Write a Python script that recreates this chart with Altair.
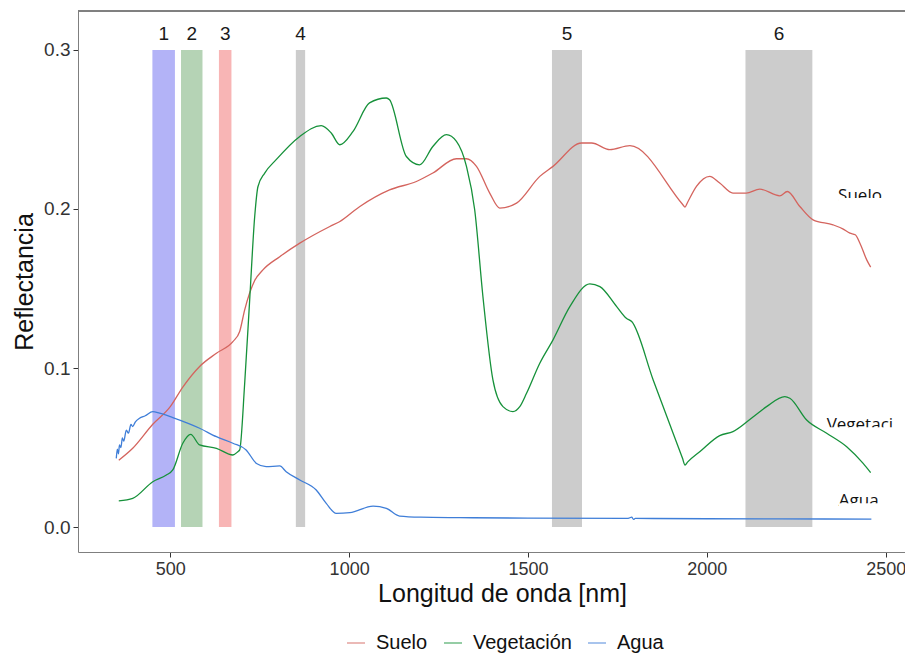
import altair as alt
import pandas as pd

# ---------------- data ----------------
suelo_wl = [356, 395, 451, 500, 535, 582, 629, 675, 694, 708, 736, 759, 806, 862,
            946, 973, 1030, 1113, 1188, 1234, 1300, 1328, 1356, 1393, 1421, 1468,
            1533, 1570, 1650, 1678, 1729, 1785, 1932, 1939, 1946, 1971, 2008, 2036,
            2073, 2110, 2148, 2204, 2225, 2260, 2297, 2353, 2380, 2400, 2415, 2428,
            2447, 2458]
suelo_val = [0.042, 0.0495, 0.0646, 0.0757, 0.088, 0.101, 0.1093, 0.1166, 0.123,
             0.1366, 0.155, 0.1617, 0.170, 0.1785, 0.189, 0.192, 0.2016, 0.212,
             0.2173, 0.2226, 0.2316, 0.2316, 0.2268, 0.210, 0.2006, 0.2037, 0.2205,
             0.2268, 0.2415, 0.2415, 0.2373, 0.2398, 0.2030, 0.2012, 0.2041, 0.2142,
             0.2205, 0.2163, 0.210, 0.210, 0.2125, 0.2083, 0.211, 0.2016, 0.1932,
             0.190, 0.1875, 0.1848, 0.1838, 0.1785, 0.168, 0.1634]

veg_wl = [356, 395, 451, 489, 507, 535, 557, 582, 629, 675, 689, 694, 708, 722, 736,
          745, 764, 796, 862, 922, 950, 974, 1011, 1057, 1104, 1113, 1160, 1197,
          1234, 1272, 1300, 1328, 1351, 1374, 1402, 1430, 1458, 1477, 1496, 1533,
          1570, 1617, 1673, 1701, 1748, 1775, 1790, 1850, 1932, 1939, 1946, 1981,
          2036, 2073, 2130, 2167, 2218, 2232, 2279, 2335, 2391, 2437, 2458]
veg_val = [0.0164, 0.018, 0.0285, 0.0327, 0.0359, 0.0527, 0.0583, 0.0516, 0.0495,
           0.0453, 0.0474, 0.0485, 0.0904, 0.143, 0.1953, 0.214, 0.2226, 0.231,
           0.2456, 0.2524, 0.2478, 0.2404, 0.2488, 0.2667, 0.2698, 0.2687, 0.233,
           0.2278, 0.2393, 0.2467, 0.2425, 0.2268, 0.1995, 0.145, 0.0925, 0.0757,
           0.0726, 0.0757, 0.0841, 0.103, 0.1177, 0.1386, 0.1529, 0.1512, 0.1386,
           0.1313, 0.1292, 0.0925, 0.0432, 0.039, 0.0408, 0.0475, 0.0575, 0.060,
           0.0694, 0.0757, 0.082, 0.081, 0.0673, 0.059, 0.0505, 0.040, 0.0342]

agua_wl = [349, 352, 355, 358, 362, 366, 370, 377, 383, 390, 395, 402, 414, 430, 451,
           470, 507, 582, 629, 675, 712, 741, 768, 806, 824, 862, 908, 936, 964,
           1002, 1067, 1104, 1141, 1200, 1309, 1500, 1780, 1790, 1795, 1800, 2000,
           2200, 2460]
agua_val = [0.0432, 0.049, 0.046, 0.0516, 0.050, 0.056, 0.054, 0.061, 0.059, 0.0645,
            0.0632, 0.066, 0.0684, 0.070, 0.0726, 0.0716, 0.0688, 0.0621, 0.0568,
            0.0527, 0.0485, 0.040, 0.038, 0.0384, 0.0348, 0.0296, 0.0233, 0.0149,
            0.0086, 0.009, 0.0132, 0.0118, 0.0069, 0.0062, 0.0059, 0.0056, 0.0055,
            0.0062, 0.0048, 0.0054, 0.0052, 0.0051, 0.005]

series_names = ["Suelo", "Vegetación", "Agua"]
series_colors = ["#D4645E", "#16913A", "#3F7ED8"]

band_labels = ["1", "2", "3", "4", "5", "6"]
band_start = [450, 530, 636, 851, 1567, 2108]
band_end = [513, 590, 671, 877, 1651, 2295]
band_colors = ["#B3B3F7", "#B5D3B5", "#F8B5B5", "#CCCCCC", "#CCCCCC", "#CCCCCC"]
band_bottom = 0.0
band_top = 0.3
band_label_y = 0.31

annot_text = ["Suelo", "Vegetaci", "Agua"]
annot_x = [2367, 2335, 2369]
annot_xend = [2510, 2545, 2500]
annot_y = [0.205, 0.0608, 0.013]

# ---------------- frames ----------------
lines = pd.concat([
    pd.DataFrame({"wl": suelo_wl, "val": suelo_val, "serie": series_names[0]}),
    pd.DataFrame({"wl": veg_wl, "val": veg_val, "serie": series_names[1]}),
    pd.DataFrame({"wl": agua_wl, "val": agua_val, "serie": series_names[2]}),
], ignore_index=True)

bands = pd.DataFrame({"label": band_labels, "x0": band_start, "x1": band_end,
                      "fillc": band_colors, "y0": band_bottom, "y1": band_top,
                      "ly": band_label_y})

annots = pd.DataFrame({"t": annot_text, "ax": annot_x, "axe": annot_xend, "ay": annot_y})

W, H = 827, 541
FONT = "Liberation Sans"
XDOM = [242, 2554]
YDOM = [-0.0157, 0.3245]


def xs(field):
    return alt.X(field, type="quantitative",
                 scale=alt.Scale(domain=XDOM, nice=False, zero=False),
                 axis=alt.Axis(values=[500, 1000, 1500, 2000, 2500], format="d",
                               title="Longitud de onda [nm]", titleX=424,
                               labelFontSize=18))


def ys(field):
    return alt.Y(field, type="quantitative",
                 scale=alt.Scale(domain=YDOM, nice=False, zero=False),
                 axis=alt.Axis(values=[0, 0.1, 0.2, 0.3], format=".1f",
                               title="Reflectancia"))


band_rect = alt.Chart(bands).mark_rect().encode(
    x=xs("x0"), x2="x1", y=ys("y0"), y2="y1",
    fill=alt.Fill("fillc:N", scale=None),
)

band_text = alt.Chart(bands).transform_calculate(
    cx="(datum.x0 + datum.x1) / 2"
).mark_text(font=FONT, fontSize=19, color="#1a1a1a", baseline="middle").encode(
    x=xs("cx"), y=ys("ly"), text="label:N"
)

annot_t = alt.Chart(annots).mark_text(
    font="Open Sans", fontSize=17, color="#111111", align="left", baseline="alphabetic"
).encode(x=xs("ax"), y=ys("ay"), text="t:N")

annot_mask = alt.Chart(annots).mark_rect(
    color="white", yOffset=-3, y2Offset=6
).encode(x=xs("ax"), x2="axe", y=ys("ay"), y2="ay")

line_layer = alt.Chart(lines).mark_line(strokeWidth=1.3, interpolate="monotone").encode(
    x=xs("wl"), y=ys("val"),
    color=alt.Color("serie:N",
                    scale=alt.Scale(domain=series_names, range=series_colors),
                    sort=series_names,
                    legend=alt.Legend(title=None, orient="none", direction="horizontal",
                                      legendX=268, legendY=622)),
    order=alt.Order("wl:Q"),
)

top_border = alt.Chart(bands).mark_rule(color="#7f7f7f", strokeWidth=1).encode(
    x=alt.value(0), x2=alt.value(W), y=alt.value(0)
)

chart = alt.layer(
    band_rect, band_text, annot_t, annot_mask, line_layer, top_border
).properties(
    width=W, height=H,
    autosize=alt.AutoSizeParams(type="none"),
    padding={"left": 70, "top": 3, "right": 0, "bottom": 104},
    background="white",
).configure_view(
    stroke=None
).configure_axis(
    grid=False,
    labelFont=FONT, labelFontSize=19, labelColor="#333333",
    titleFont=FONT, titleFontSize=25, titleFontWeight="normal", titleColor="#111111",
    tickSize=5, tickColor="#333333", tickWidth=1,
    domainColor="#7f7f7f", domainWidth=1,
    labelPadding=3,
).configure_axisX(
    titlePadding=3,
).configure_axisY(
    titlePadding=6,
).configure_legend(
    symbolType="stroke", symbolSize=324, symbolStrokeWidth=1.5, symbolOpacity=0.6,
    labelFont=FONT, labelFontSize=20, labelColor="#111111",
    labelOffset=10, columnPadding=13, padding=0,
)

chart.save("out.html", embed_options={"renderer": "svg", "actions": False})
